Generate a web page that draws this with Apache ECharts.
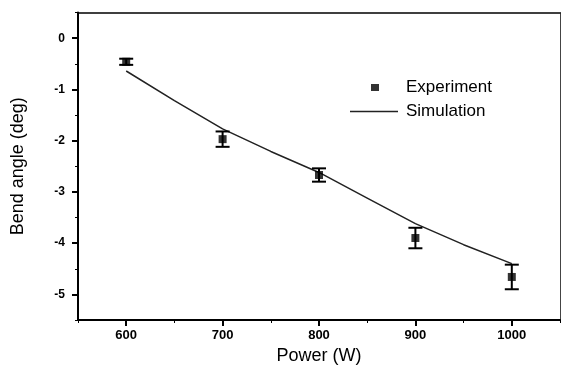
<!DOCTYPE html>
<html>
<head>
<meta charset="utf-8">
<script src="https://cdn.jsdelivr.net/npm/echarts@6/dist/echarts.min.js"></script>
<style>
html,body{margin:0;padding:0;background:#fff;}
#chart{width:561px;height:370px;}
</style>
</head>
<body>
<div id="chart"></div>
<script>
// ---- data ----
var expPower = [600, 700, 800, 900, 1000];
var expAngle = [-0.46, -1.97, -2.67, -3.90, -4.66];
var expError = [0.06, 0.15, 0.13, 0.20, 0.24];

var simPower = [600, 650, 700, 750, 800, 850, 900, 950, 1000];
var simAngle = [-0.64, -1.22, -1.77, -2.21, -2.62, -3.12, -3.62, -4.03, -4.40];

var xTickLabels = [600, 700, 800, 900, 1000];
var xMinorTicks = [550, 650, 750, 850, 950, 1050];
var yTickLabels = [0, -1, -2, -3, -4, -5];
var yMinorTicks = [0.5, -0.5, -1.5, -2.5, -3.5, -4.5, -5.5];

// ---- build ----
var FONT = 'Liberation Sans, Arial, Helvetica, sans-serif';
var expPoints = expPower.map(function (p, i) { return [p, expAngle[i]]; });
var errData = expPower.map(function (p, i) { return [p, expAngle[i] - expError[i], expAngle[i] + expError[i]]; });
var simData = simPower.map(function (p, i) { return [p, simAngle[i]]; });

var chart = echarts.init(document.getElementById('chart'), null, {renderer: 'canvas'});

var grid = {left: 78, top: 12.6, width: 482, height: 308};

chart.setOption({
  animation: false,
  backgroundColor: '#ffffff',
  grid: grid,
  legend: [
    {
      data: [{name: 'Experiment', icon: 'rect'}],
      left: 366, top: 74,
      itemWidth: 8, itemHeight: 7,
      textStyle: {fontFamily: FONT, fontSize: 17, color: '#000', padding: [0, 0, 0, 22]},
      selectedMode: false
    },
    {
      data: [{name: 'Simulation', icon: 'rect', itemStyle: {color: '#222'}}],
      left: 345, top: 98,
      itemWidth: 48, itemHeight: 1.5,
      textStyle: {fontFamily: FONT, fontSize: 17, color: '#000', padding: [0, 0, 0, 3]},
      selectedMode: false
    }
  ],
  xAxis: [
    {
      type: 'value', min: 550, max: 1050, position: 'bottom',
      name: 'Power (W)', nameLocation: 'middle', nameGap: 27,
      nameTextStyle: {fontFamily: FONT, fontSize: 18, color: '#000'},
      axisLine: {onZero: false, lineStyle: {color: '#000', width: 2}},
      axisTick: {inside: false, length: 6, lineStyle: {color: '#000', width: 2}, customValues: xTickLabels},
      axisLabel: {margin: 9, fontFamily: FONT, fontSize: 13, fontWeight: 'bold', color: '#000', customValues: xTickLabels,
        formatter: function (v) { return String(v); }},
      splitLine: {show: false}
    },
    {
      type: 'value', min: 550, max: 1050, position: 'top',
      axisLine: {onZero: false, lineStyle: {color: '#000', width: 1.5}},
      axisTick: {show: false}, axisLabel: {show: false}, splitLine: {show: false}
    },
    {
      type: 'value', min: 550, max: 1050, position: 'bottom',
      axisLine: {show: false, onZero: false},
      axisTick: {inside: false, length: 3, lineStyle: {color: '#000', width: 1}, customValues: xMinorTicks},
      axisLabel: {show: false}, splitLine: {show: false}
    }
  ],
  yAxis: [
    {
      type: 'value', min: -5.5, max: 0.5, position: 'left',
      name: 'Bend angle (deg)', nameLocation: 'middle', nameGap: 51, nameRotate: 90,
      nameTextStyle: {fontFamily: FONT, fontSize: 18, color: '#000'},
      axisLine: {onZero: false, lineStyle: {color: '#000', width: 2}},
      axisTick: {inside: false, length: 6, lineStyle: {color: '#000', width: 2}, customValues: yTickLabels},
      axisLabel: {margin: 13, fontFamily: FONT, fontSize: 12, fontWeight: 'bold', color: '#000', customValues: yTickLabels},
      splitLine: {show: false}
    },
    {
      type: 'value', min: -5.5, max: 0.5, position: 'right',
      axisLine: {onZero: false, lineStyle: {color: '#444', width: 1}},
      axisTick: {show: false}, axisLabel: {show: false}, splitLine: {show: false}
    },
    {
      type: 'value', min: -5.5, max: 0.5, position: 'left',
      axisLine: {show: false, onZero: false},
      axisTick: {inside: false, length: 3, lineStyle: {color: '#000', width: 1}, customValues: yMinorTicks},
      axisLabel: {show: false}, splitLine: {show: false}
    }
  ],
  series: [
    {
      name: 'Simulation', type: 'line', data: simData,
      symbol: 'none', smooth: false,
      lineStyle: {color: '#222', width: 1.5},
      itemStyle: {color: '#222'},
      z: 2
    },
    {
      name: 'ErrorBars', type: 'custom', data: errData,
      renderItem: function (params, api) {
        var x = api.value(0);
        var lo = api.coord([x, api.value(1)]);
        var hi = api.coord([x, api.value(2)]);
        var hw = 7;
        var st = {stroke: '#000', lineWidth: 2};
        return {
          type: 'group',
          children: [
            {type: 'line', shape: {x1: lo[0], y1: lo[1], x2: hi[0], y2: hi[1]}, style: st},
            {type: 'line', shape: {x1: lo[0] - hw, y1: lo[1], x2: lo[0] + hw, y2: lo[1]}, style: st},
            {type: 'line', shape: {x1: hi[0] - hw, y1: hi[1], x2: hi[0] + hw, y2: hi[1]}, style: st}
          ]
        };
      },
      z: 3
    },
    {
      name: 'Experiment', type: 'scatter', data: expPoints,
      symbol: 'rect', symbolSize: [8, 8],
      itemStyle: {color: '#000'},
      z: 4
    }
  ]
});
</script>
</body>
</html>
